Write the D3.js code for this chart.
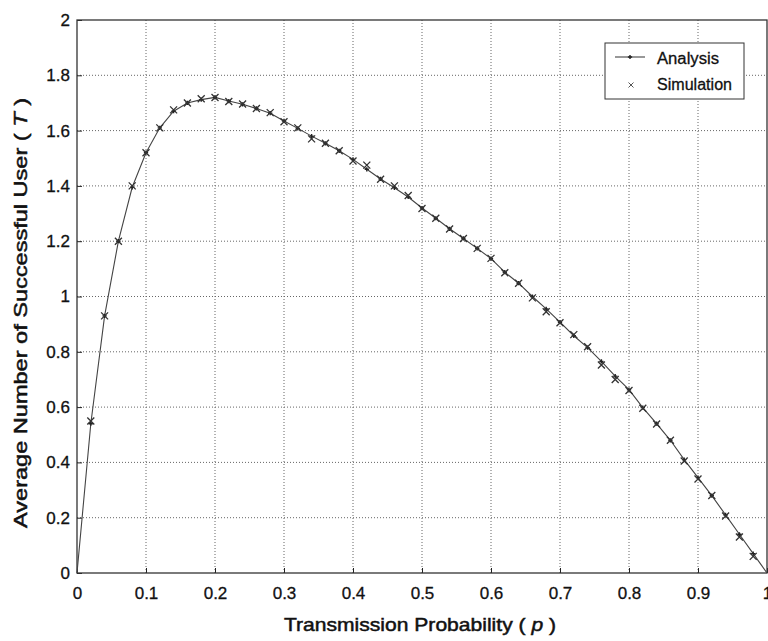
<!DOCTYPE html>
<html><head><meta charset="utf-8">
<script src="https://cdn.jsdelivr.net/npm/d3@7"></script>
<style>
body{margin:0;background:#fff;}
svg{display:block;}
text{font-family:"Liberation Sans",Arial,sans-serif;fill:#111;}
</style></head>
<body><svg id="c" width="768" height="641"></svg>
<script>
const pValues = [0,0.02,0.04,0.06,0.08,0.10,0.12,0.14,0.16,0.18,0.20,0.22,0.24,0.26,0.28,0.30,0.32,0.34,0.36,0.38,0.40,0.42,0.44,0.46,0.48,0.50,0.52,0.54,0.56,0.58,0.60,0.62,0.64,0.66,0.68,0.70,0.72,0.74,0.76,0.78,0.80,0.82,0.84,0.86,0.88,0.90,0.92,0.94,0.96,0.98,1.0];
const analysis = [0,0.54,0.93,1.20,1.395,1.52,1.61,1.67,1.70,1.712,1.72,1.707,1.695,1.68,1.663,1.635,1.608,1.58,1.554,1.527,1.496,1.46,1.425,1.393,1.36,1.32,1.283,1.245,1.21,1.174,1.137,1.088,1.048,1.0,0.955,0.907,0.858,0.815,0.765,0.712,0.663,0.598,0.54,0.48,0.41,0.345,0.28,0.21,0.14,0.07,0];
const simulation = [null,0.55,0.93,1.20,1.40,1.52,1.61,1.675,1.70,1.715,1.72,1.705,1.696,1.68,1.665,1.632,1.61,1.57,1.554,1.527,1.49,1.475,1.424,1.40,1.365,1.318,1.283,1.244,1.21,1.174,1.138,1.086,1.048,0.995,0.945,0.905,0.862,0.818,0.752,0.70,0.66,0.596,0.539,0.48,0.405,0.34,0.28,0.206,0.13,0.06,null];
const xTicks = [0,0.1,0.2,0.3,0.4,0.5,0.6,0.7,0.8,0.9,1];
const yTicks = [0,0.2,0.4,0.6,0.8,1,1.2,1.4,1.6,1.8,2];
const seriesNames = ["Analysis","Simulation"];

const svg = d3.select("#c");
const L=77, R=767, T=20, B=573;
const x = d3.scaleLinear().domain([0,1]).range([L,R]);
const y = d3.scaleLinear().domain([0,2]).range([B,T]);

// grid
const g = svg.append("g");
g.selectAll(".gx").data(xTicks.slice(1,-1)).join("line")
  .attr("x1",d=>x(d)).attr("x2",d=>x(d)).attr("y1",T).attr("y2",B)
  .attr("stroke","#666").attr("stroke-width",1).attr("stroke-dasharray","1,2");
g.selectAll(".gy").data(yTicks.slice(1,-1)).join("line")
  .attr("y1",d=>y(d)).attr("y2",d=>y(d)).attr("x1",L).attr("x2",R)
  .attr("stroke","#666").attr("stroke-width",1).attr("stroke-dasharray","1,2");

// axes
const xa = svg.append("g").attr("transform",`translate(0,${B})`)
  .call(d3.axisBottom(x).tickValues(xTicks).tickFormat(d3.format("")).tickSizeInner(-5).tickSizeOuter(0).tickPadding(12));
const ya = svg.append("g").attr("transform",`translate(${L},0)`)
  .call(d3.axisLeft(y).tickValues(yTicks).tickFormat(d3.format("")).tickSizeInner(-5).tickSizeOuter(0).tickPadding(7));
[xa,ya].forEach(a=>{
  a.selectAll("path").remove();
  a.selectAll("line").attr("stroke","#222");
  a.selectAll("text").attr("font-size",17).attr("fill","#111").attr("stroke","#111").attr("stroke-width",0.3)
    .style("font-family","Liberation Sans, Arial, sans-serif");
});
xa.selectAll("text").attr("dy","0.85em");
// frame
svg.append("rect").attr("x",L).attr("y",T).attr("width",R-L).attr("height",B-T)
  .attr("fill","none").attr("stroke","#333").attr("stroke-width",1.3);

// analysis line
const aData = pValues.map((p,i)=>[p,analysis[i]]);
svg.append("path").datum(aData)
  .attr("d",d3.line().x(d=>x(d[0])).y(d=>y(d[1])))
  .attr("fill","none").attr("stroke","#444").attr("stroke-width",1.1);
// analysis markers (+)
svg.selectAll(".am").data(aData.slice(1,-1)).join("path")
  .attr("transform",d=>`translate(${x(d[0])},${y(d[1])})`)
  .attr("d",d3.symbol().type(d3.symbolCross).size(10)).attr("fill","#222");
// simulation markers (x)
const sData = pValues.map((p,i)=>[p,simulation[i]]).filter(d=>d[1]!==null);
svg.selectAll(".sm").data(sData).join("path")
  .attr("transform",d=>`translate(${x(d[0])},${y(d[1])})`)
  .attr("d","M-3.5,-3.5L3.5,3.5M-3.5,3.5L3.5,-3.5")
  .attr("stroke","#333").attr("stroke-width",1.3).attr("fill","none");

// axis titles
const xt = svg.append("text").attr("x",420).attr("y",631).attr("text-anchor","middle")
  .attr("font-size",19).attr("stroke","#111").attr("stroke-width",0.5).attr("textLength",272).attr("lengthAdjust","spacingAndGlyphs");
xt.append("tspan").text("Transmission Probability ( ");
xt.append("tspan").attr("font-style","italic").text("p");
xt.append("tspan").text(" )");
const yt = svg.append("text").attr("transform","translate(27,313) rotate(-90)").attr("text-anchor","middle")
  .attr("font-size",19).attr("stroke","#111").attr("stroke-width",0.5).attr("textLength",430).attr("lengthAdjust","spacingAndGlyphs");
yt.append("tspan").text("Average Number of Successful User ( ");
yt.append("tspan").attr("font-style","italic").text("T");
yt.append("tspan").text(" )");

// legend
const lg = svg.append("g");
lg.append("rect").attr("x",605).attr("y",43).attr("width",139).attr("height",56)
  .attr("fill","#fff").attr("stroke","#333").attr("stroke-width",1);
lg.append("line").attr("x1",615).attr("x2",645).attr("y1",57).attr("y2",57).attr("stroke","#444").attr("stroke-width",1.1);
lg.append("path").attr("transform","translate(630,57)").attr("d",d3.symbol().type(d3.symbolCross).size(10)).attr("fill","#222");
lg.append("path").attr("transform","translate(631,85)").attr("d","M-2.5,-2.5L2.5,2.5M-2.5,2.5L2.5,-2.5")
  .attr("stroke","#555").attr("stroke-width",1).attr("fill","none");
lg.selectAll(".lt").data(seriesNames).join("text")
  .attr("x",657).attr("y",(d,i)=>64+i*26).attr("font-size",16).attr("stroke","#111").attr("stroke-width",0.3)
  .attr("textLength",(d,i)=>i===0?62:75).attr("lengthAdjust","spacingAndGlyphs").text(d=>d);
</script></body></html>
